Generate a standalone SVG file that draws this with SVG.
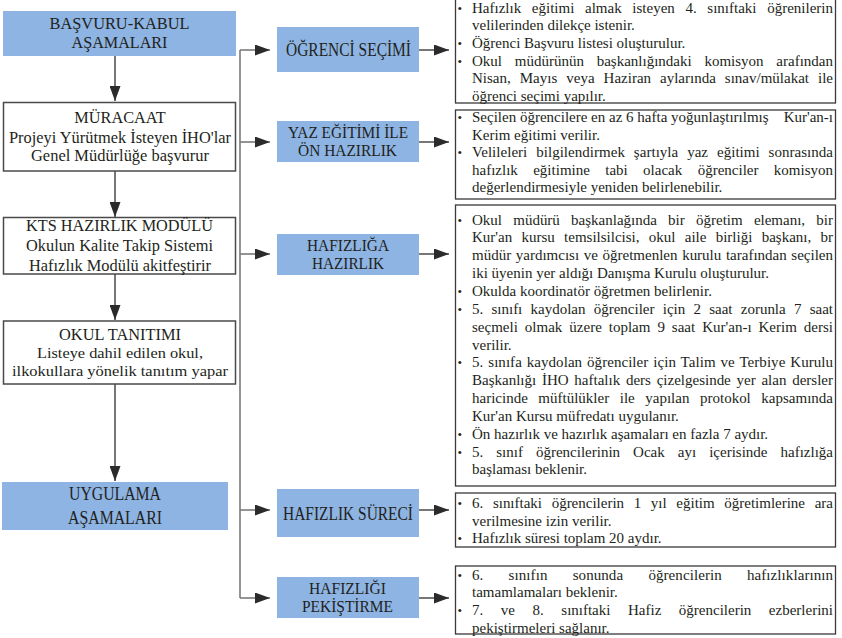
<svg xmlns="http://www.w3.org/2000/svg" width="842" height="638" viewBox="0 0 842 638">
<defs>
<style>
.blue{fill:#8DB4E2}
.wbox{fill:#fff;stroke:#4a4a4a;stroke-width:1.5}
.tbox{fill:#fff;stroke:#3a3a3a;stroke-width:1.3}
.conn{fill:none;stroke:#4a4a4a;stroke-width:1.5}
.br{fill:none;stroke:#7a7a7a;stroke-width:1.6}
text{font-family:"Liberation Serif","Times New Roman",serif;fill:#231f20}
.lt{font-size:16.3px;text-anchor:middle}
.ls{font-size:15.4px;text-anchor:middle}
.bt{font-size:17px;text-anchor:middle}
.bb{font-size:18.5px;text-anchor:middle}
.rt{font-size:15px}
.bu{font-size:13px}
.end{text-anchor:end}
</style>
<marker id="ah" viewBox="0 0 15 11" refX="15" refY="5.5" markerWidth="15" markerHeight="11" markerUnits="userSpaceOnUse" orient="auto"><path d="M0,0 L15,5.5 L0,11 z" fill="#2b2b2b"/></marker>
</defs>
<rect width="842" height="638" fill="#fff"/>

<g id="connectors">
<path class="conn" d="M115,56 V101" marker-end="url(#ah)"/>
<path class="conn" d="M115,171 V217" marker-end="url(#ah)"/>
<path class="conn" d="M115,274 V320" marker-end="url(#ah)"/>
<path class="conn" d="M115,384 V481" marker-end="url(#ah)"/>
<path class="br" d="M240,50 V598"/>
<path class="br" d="M240,50 H270" marker-end="url(#ah)"/>
<path class="br" d="M240,142 H270" marker-end="url(#ah)"/>
<path class="br" d="M240,254 H270" marker-end="url(#ah)"/>
<path class="br" d="M240,510 H270" marker-end="url(#ah)"/>
<path class="br" d="M240,598 H270" marker-end="url(#ah)"/>
<path class="conn" d="M419,50 H449" marker-end="url(#ah)"/>
<path class="conn" d="M419,142 H449" marker-end="url(#ah)"/>
<path class="conn" d="M419,254 H449" marker-end="url(#ah)"/>
<path class="conn" d="M419,510 H449" marker-end="url(#ah)"/>
<path class="conn" d="M419,598 H449" marker-end="url(#ah)"/>
</g>

<g id="basvuru-kabul">
<rect class="blue" x="3" y="11" width="233" height="45"/>
<text class="lt" x="119.5" y="29" textLength="140" lengthAdjust="spacingAndGlyphs">BAŞVURU-KABUL</text>
<text class="lt" x="119.5" y="48" textLength="96" lengthAdjust="spacingAndGlyphs">AŞAMALARI</text>
</g>

<g id="muracaat">
<rect class="wbox" x="3.5" y="102.5" width="232" height="68.5"/>
<text class="lt" x="120" y="123">MÜRACAAT</text>
<text class="lt" x="120" y="142.7" textLength="222" lengthAdjust="spacingAndGlyphs">Projeyi Yürütmek İsteyen İHO'lar</text>
<text class="lt" x="120" y="160.7" textLength="178" lengthAdjust="spacingAndGlyphs">Genel Müdürlüğe başvurur</text>
</g>

<g id="kts">
<rect class="wbox" x="3.5" y="217.5" width="232" height="56.5"/>
<text class="lt" x="119.5" y="231" textLength="187" lengthAdjust="spacingAndGlyphs">KTS HAZIRLIK MODÜLÜ</text>
<text class="lt" x="119.5" y="251" textLength="187" lengthAdjust="spacingAndGlyphs">Okulun Kalite Takip Sistemi</text>
<text class="lt" x="120" y="270.5" textLength="182" lengthAdjust="spacingAndGlyphs">Hafızlık Modülü akitfeştirir</text>
</g>

<g id="okul-tanitimi">
<rect class="wbox" x="3.5" y="321" width="232" height="63"/>
<text class="lt" x="120" y="339.5" textLength="122" lengthAdjust="spacingAndGlyphs">OKUL TANITIMI</text>
<text class="ls" x="120" y="358" textLength="166" lengthAdjust="spacingAndGlyphs">Listeye dahil edilen okul,</text>
<text class="ls" x="120" y="375.5" textLength="216" lengthAdjust="spacingAndGlyphs">ilkokullara yönelik tanıtım yapar</text>
</g>

<g id="uygulama">
<rect class="blue" x="2" y="482" width="226" height="48"/>
<text class="bb" x="115" y="500" textLength="92" lengthAdjust="spacingAndGlyphs">UYGULAMA</text>
<text class="bb" x="115" y="524" textLength="94" lengthAdjust="spacingAndGlyphs">AŞAMALARI</text>
</g>

<g id="ogrenci-secimi">
<rect class="blue" x="277" y="27" width="142" height="45"/>
<text class="bb" x="348.5" y="56" textLength="125" lengthAdjust="spacingAndGlyphs">ÖĞRENCİ SEÇİMİ</text>
</g>

<g id="yaz-egitimi">
<rect class="blue" x="277" y="121" width="142" height="41"/>
<text class="bt" x="348" y="138.3" textLength="120" lengthAdjust="spacingAndGlyphs">YAZ EĞİTİMİ İLE</text>
<text class="bt" x="347.5" y="156" textLength="99" lengthAdjust="spacingAndGlyphs">ÖN HAZIRLIK</text>
</g>

<g id="hafizliga-hazirlik">
<rect class="blue" x="277" y="234" width="142" height="41"/>
<text class="bt" x="348" y="251" textLength="82" lengthAdjust="spacingAndGlyphs">HAFIZLIĞA</text>
<text class="bt" x="348" y="269" textLength="72" lengthAdjust="spacingAndGlyphs">HAZIRLIK</text>
</g>

<g id="hafizlik-sureci">
<rect class="blue" x="277" y="489" width="142" height="48"/>
<text class="bb" x="348" y="520" textLength="130" lengthAdjust="spacingAndGlyphs">HAFIZLIK SÜRECİ</text>
</g>

<g id="hafizligi-pekistirme">
<rect class="blue" x="277" y="577" width="142" height="41"/>
<text class="bt" x="347.5" y="594" textLength="77" lengthAdjust="spacingAndGlyphs">HAFIZLIĞI</text>
<text class="bt" x="347.5" y="612" textLength="91" lengthAdjust="spacingAndGlyphs">PEKİŞTİRME</text>
</g>

<g id="detay-ogrenci-secimi">
<rect class="tbox" x="455.5" y="-1" width="380" height="104"/>
<text class="bu" x="457.5" y="12.5">•</text>
<text class="rt" x="472" y="12.5" word-spacing="6.9" textLength="361" lengthAdjust="spacing">Hafızlık eğitimi almak isteyen 4. sınıftaki öğrenilerin</text>
<text class="rt" x="472" y="30.2">velilerinden dilekçe istenir.</text>
<text class="bu" x="457.5" y="47.9">•</text>
<text class="rt" x="472" y="47.9">Öğrenci Başvuru listesi oluşturulur.</text>
<text class="bu" x="457.5" y="65.6">•</text>
<text class="rt" x="472" y="65.6" word-spacing="9" textLength="361" lengthAdjust="spacing">Okul müdürünün başkanlığındaki komisyon arafından</text>
<text class="rt" x="472" y="83.3" word-spacing="5.25" textLength="361" lengthAdjust="spacing">Nisan, Mayıs veya Haziran aylarında sınav/mülakat ile</text>
<text class="rt" x="472" y="101">öğrenci seçimi yapılır.</text>
</g>

<g id="detay-yaz-egitimi">
<rect class="tbox" x="455.5" y="110" width="380" height="89"/>
<text class="bu" x="457.5" y="122">•</text>
<text class="rt" x="472" y="122">Seçilen öğrencilere en az 6 hafta yoğunlaştırılmış</text>
<text class="rt end" x="833" y="122">Kur'an-ı</text>
<text class="rt" x="472" y="139.6">Kerim eğitimi verilir.</text>
<text class="bu" x="457.5" y="157.2">•</text>
<text class="rt" x="472" y="157.2" word-spacing="5.1" textLength="361" lengthAdjust="spacing">Velileleri bilgilendirmek şartıyla yaz eğitimi sonrasında</text>
<text class="rt" x="472" y="174.8" word-spacing="11.6" textLength="361" lengthAdjust="spacing">hafızlık eğitimine tabi olacak öğrenciler komisyon</text>
<text class="rt" x="472" y="192.4">değerlendirmesiyle yeniden belirlenebilir.</text>
</g>

<g id="detay-hafizliga-hazirlik">
<rect class="tbox" x="455.5" y="205" width="380" height="281"/>
<text class="bu" x="457.5" y="224.5">•</text>
<text class="rt" x="472" y="224.5" word-spacing="7.5" textLength="361" lengthAdjust="spacing">Okul müdürü başkanlağında bir öğretim elemanı, bir</text>
<text class="rt" x="472" y="242.4" word-spacing="5.6" textLength="361" lengthAdjust="spacing">Kur'an kursu temsilsilcisi, okul aile birliği başkanı, br</text>
<text class="rt" x="472" y="260.2" word-spacing="0.9" textLength="361" lengthAdjust="spacing">müdür yardımcısı ve öğretmenlen kurulu tarafından seçilen</text>
<text class="rt" x="472" y="278.1">iki üyenin yer aldığı Danışma Kurulu oluşturulur.</text>
<text class="bu" x="457.5" y="295.9">•</text>
<text class="rt" x="472" y="295.9">Okulda koordinatör öğretmen belirlenir.</text>
<text class="bu" x="457.5" y="313.8">•</text>
<text class="rt" x="472" y="313.8" word-spacing="4.5" textLength="361" lengthAdjust="spacing">5. sınıfı kaydolan öğrenciler için 2 saat zorunla 7 saat</text>
<text class="rt" x="472" y="331.6" word-spacing="3.2" textLength="361" lengthAdjust="spacing">seçmeli olmak üzere toplam 9 saat Kur'an-ı Kerim dersi</text>
<text class="rt" x="472" y="349.5">verilir.</text>
<text class="bu" x="457.5" y="367.3">•</text>
<text class="rt" x="472" y="367.3" word-spacing="1.1" textLength="361" lengthAdjust="spacing">5. sınıfa kaydolan öğrenciler için Talim ve Terbiye Kurulu</text>
<text class="rt" x="472" y="385.2" word-spacing="2" textLength="361" lengthAdjust="spacing">Başkanlığı İHO haftalık ders çizelgesinde yer alan dersler</text>
<text class="rt" x="472" y="403" word-spacing="6.8" textLength="361" lengthAdjust="spacing">haricinde müftülükler ile yapılan protokol kapsamında</text>
<text class="rt" x="472" y="420.9">Kur'an Kursu müfredatı uygulanır.</text>
<text class="bu" x="457.5" y="438.7">•</text>
<text class="rt" x="472" y="438.7">Ön hazırlık ve hazırlık aşamaları en fazla 7 aydır.</text>
<text class="bu" x="457.5" y="456.6">•</text>
<text class="rt" x="472" y="456.6" word-spacing="9.3" textLength="361" lengthAdjust="spacing">5. sınıf öğrencilerinin Ocak ayı içerisinde hafızlığa</text>
<text class="rt" x="472" y="474.4">başlaması beklenir.</text>
</g>

<g id="detay-hafizlik-sureci">
<rect class="tbox" x="455.5" y="493" width="380" height="54"/>
<text class="bu" x="457.5" y="508">•</text>
<text class="rt" x="472" y="508" word-spacing="5.9" textLength="361" lengthAdjust="spacing">6. sınıftaki öğrencilerin 1 yıl eğitim öğretimlerine ara</text>
<text class="rt" x="472" y="525.5">verilmesine izin verilir.</text>
<text class="bu" x="457.5" y="543">•</text>
<text class="rt" x="472" y="543">Hafızlık süresi toplam 20 aydır.</text>
</g>

<g id="detay-hafizligi-pekistirme">
<rect class="tbox" x="455.5" y="566" width="380" height="68"/>
<text class="bu" x="457.5" y="579.5">•</text>
<text class="rt" x="472" y="579.5" word-spacing="21.4" textLength="361" lengthAdjust="spacing">6. sınıfın sonunda öğrencilerin hafızlıklarının</text>
<text class="rt" x="472" y="597.2">tamamlamaları beklenir.</text>
<text class="bu" x="457.5" y="614.9">•</text>
<text class="rt" x="472" y="614.9" word-spacing="13.8" textLength="361" lengthAdjust="spacing">7. ve 8. sınıftaki Hafiz öğrencilerin ezberlerini</text>
<text class="rt" x="472" y="632.6">pekiştirmeleri sağlanır.</text>
</g>
</svg>
